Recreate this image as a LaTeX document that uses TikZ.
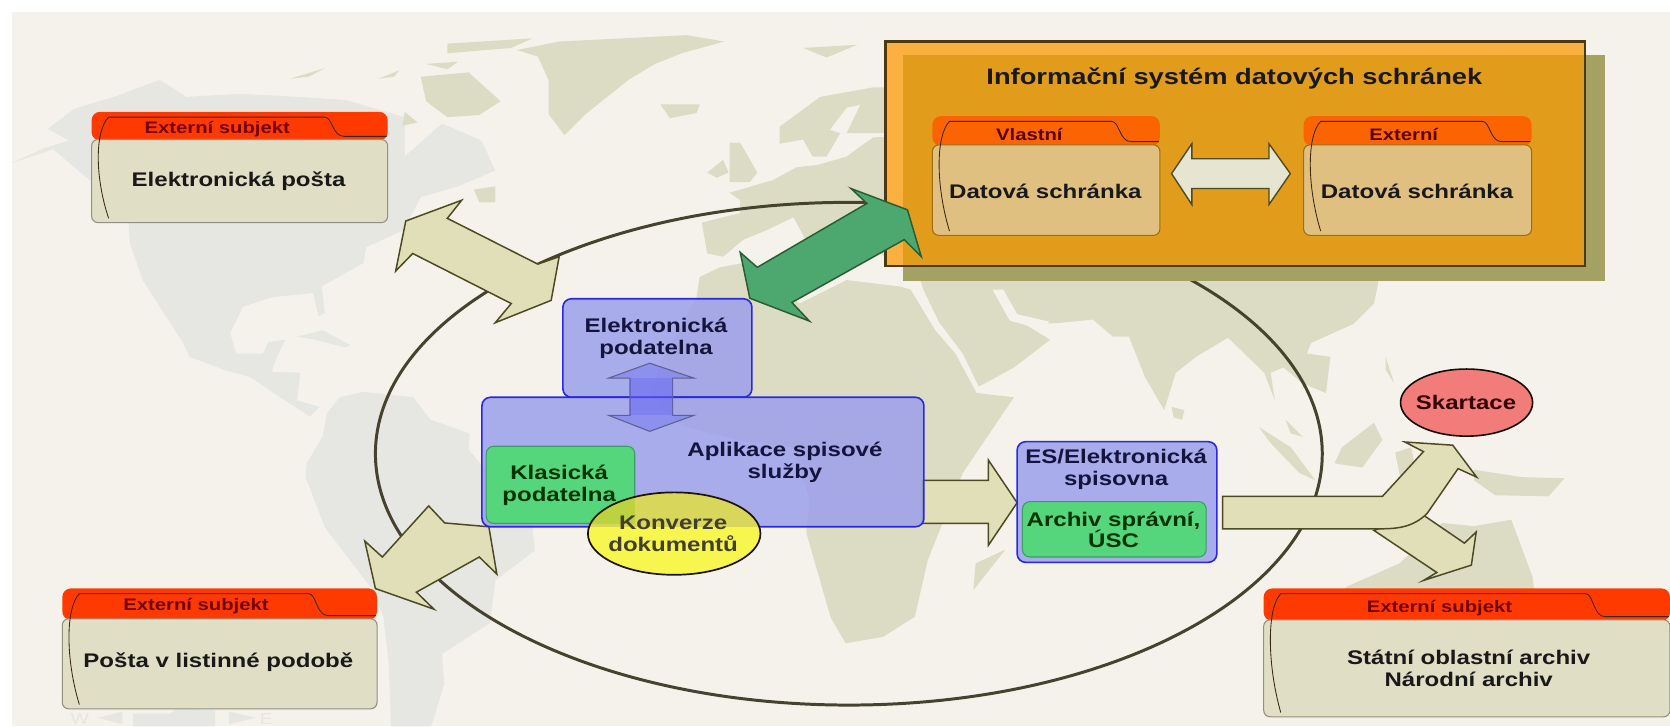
\documentclass[tikz,border=0pt]{standalone}
\usepackage{fontspec}
\setmainfont{Liberation Sans}[FakeStretch=1.22]
\usetikzlibrary{shapes.geometric}
\definecolor{bgc}{HTML}{F4F2EA}
\definecolor{land}{HTML}{DCDCC5}
\definecolor{grayland}{HTML}{E6E6E2}
\definecolor{tan}{HTML}{E0DFB8}
\definecolor{tanline}{HTML}{4C4A22}
\definecolor{redh}{HTML}{FF3A00}
\definecolor{orh}{HTML}{FB6400}
\definecolor{bodyc}{HTML}{E0DFC6}
\definecolor{bodyo}{HTML}{E0C080}
\definecolor{isband}{HTML}{FCB040}
\definecolor{isin}{HTML}{E09C1A}
\definecolor{shad}{HTML}{A3A263}
\definecolor{bluef}{HTML}{9DA0EC}
\definecolor{blueb}{HTML}{2828E0}
\definecolor{greenb}{HTML}{55D67C}
\definecolor{greenl}{HTML}{3C9C6A}
\definecolor{navy}{HTML}{14143C}
\definecolor{gra}{HTML}{4CA86E}
\definecolor{gral}{HTML}{2C5C34}
\definecolor{ringc}{HTML}{46422E}
\definecolor{yelo}{HTML}{F7F64E}
\definecolor{yelb}{HTML}{D9D65C}
\definecolor{yelg}{HTML}{BCD23E}
\definecolor{skc}{HTML}{F27C7A}
\definecolor{frame}{HTML}{4A3A14}
\tikzset{
 landp/.style={fill=land,draw=none},
 grayp/.style={fill=grayland,draw=none},
 bluebox/.style={fill=bluef,fill opacity=.85,draw=blueb,line width=1.5pt,rounded corners=8pt},
 greenbox/.style={fill=greenb,draw=greenl,line width=1pt,rounded corners=7pt},
 blockarrow/.style={fill=tan,draw=tanline,line width=1.4pt,line join=miter},
 lab/.style={font=\bfseries\fontsize{18.5}{20.5}\selectfont,align=center,inner sep=0pt,text=black!90},
 blab/.style={lab,text=navy},
 hlab/.style={font=\bfseries\fontsize{15.6}{16}\selectfont,inner sep=0pt,text=#1},
 hlab/.default={red!45!black},
}
% x1 x2 y1 ymid y2 tabx hdr body border
\newcommand\folderbox[9]{%
 \fill[#7,rounded corners=8pt] (#1,#3) rectangle (#2,{#4+1});
 \draw[fill=#8,draw=#9,line width=1pt,rounded corners=6pt] (#1,#4) rectangle (#2,#5);
 \draw[black!70!brown,line width=.8pt] ({#1+16},{#5-4}) .. controls ({#1+3},{#4+(#5-#4)*.45}) and ({#1+3},{#3+18}) .. ({#1+16},{#3+5})
   -- (#6,{#3+5}) .. controls ({#6+7},{#3+5}) and ({#6+7},{#4-3}) .. ({#6+18},{#4-3}) -- ({#2-1},{#4-3});
}
\begin{document}
\begin{tikzpicture}[x=1pt,y=-1pt]
\useasboundingbox (0,0) rectangle (1568,682);
\fill[white] (0,0) rectangle (1568,682);
\fill[bgc] (11,11) rectangle (1568,682);
% ---- map: Americas
\fill[grayp] (11,153)--(42,139)--(65,132)--(45,121)--(70,102)--(110,90)--(150,75)--(175,91)--(225,88)--(280,91)--(325,94)--(380,110)--(380,147)--(415,116)--(452,132)--(465,160)--(430,175)--(395,185)--(379,216)--(344,232)--(341,247)--(302,269)--(305,294)--(299,297)--(294,275)--(256,279)--(228,288)--(216,313)--(222,332)--(247,332)--(252,321)--(268,319)--(260,335)--(255,349)--(282,350)--(279,376)--(300,382)--(291,391)--(263,373)--(235,354)--(210,347)--(178,335)--(172,322)--(134,263)--(122,228)--(120,200)--(50,140)--cycle;
\fill[grayp] (279,316)--(303,310)--(329,324)--(324,326)--(296,319)--cycle;
\fill[grayp] (307,388)--(319,373)--(341,368)--(388,373)--(404,394)--(441,407)--(440,422)--(500,495)--(502,517)--(465,545)--(460,585)--(415,614)--(417,642)--(405,682)--(367,682)--(365,623)--(360,579)--(350,554)--(305,495)--(287,448)--(288,435)--(303,410)--cycle;
% ---- map: arctic
\fill[landp] (485,47)--(525,39)--(645,33)--(680,39)--(640,50)--(615,60)--(590,75)--(550,107)--(530,127)--(515,107)--(515,75)--(505,53)--cycle;
\fill[landp] (420,41)--(500,36)--(480,45)--(420,50)--cycle;
\fill[landp] (395,72)--(440,68)--(470,95)--(450,108)--(420,110)--(400,95)--cycle;
\fill[landp] (272,74)--(305,64)--(290,72)--cycle;
\fill[landp] (355,74)--(375,66)--(370,72)--cycle;
\fill[landp] (400,60)--(430,58)--(420,65)--cycle;
\fill[landp] (380,105)--(392,115)--(378,118)--cycle;
\fill[landp] (620,98)--(657,98)--(654,106)--(629,111)--cycle;
\fill[landp] (445,178)--(465,175)--(465,190)--(450,190)--cycle;
\fill[landp] (754,45)--(805,42)--(776,54)--cycle;
% ---- map: Europe
\fill[landp] (664,162)--(679,150)--(684,162)--(673,167)--cycle;
\fill[landp] (685,134)--(695,134)--(711,162)--(704,171)--(685,171)--cycle;
\fill[landp] (763,147)--(754,131)--(732,135)--(732,119)--(770,91)--(820,82)--(810,98)--(795,101)--(779,122)--(789,125)--(776,147)--cycle;
\fill[landp] (820,82)--(870,82)--(870,125)--(826,125)--(795,125)--(807,100)--cycle;
\fill[landp] (685,181)--(726,169)--(748,157)--(767,155)--(795,147)--(807,138)--(820,129)--(870,127)--(870,245)--(830,240)--(800,225)--(782,213)--(758,228)--(745,204)--(720,216)--(698,225)--(679,241)--(664,238)--(659,209)--(695,200)--(695,188)--cycle;
% ---- map: Africa
\fill[landp] (654,279)--(657,260)--(676,251)--(698,247)--(751,285)--(795,263)--(845,269)--(855,272)--(878,310)--(897,332)--(917,369)--(952,373)--(904,444)--(871,526)--(859,579)--(829,598)--(794,604)--(780,580)--(757,500)--(760,470)--(745,420)--(700,415)--(640,400)--(612,370)--(620,340)--cycle;
\fill[landp] (944,516)--(914,554)--(916,529)--cycle;
% ---- map: Asia
\fill[landp] (860,250)--(1294,250)--(1294,266)--(1290,285)--(1271,304)--(1231,322)--(1227,332)--(1249,335)--(1245,369)--(1223,360)--(1205,345)--(1193,350)--(1197,376)--(1187,350)--(1153,317)--(1123,335)--(1104,350)--(1093,385)--(1075,354)--(1060,316)--(1045,316)--(1026,300)--(997,303)--(963,305)--(986,319)--(952,345)--(919,363)--(904,332)--(882,303)--(867,272)--cycle;
\fill[bgc] (932,272)--(942,272)--(955,295)--(985,302)--(980,310)--(948,301)--cycle;
\fill[landp] (1100,382)--(1112,385)--(1110,394)--(1102,392)--cycle;
\fill[landp] (1182,401)--(1212,420)--(1235,451)--(1220,444)--(1193,416)--cycle;
\fill[landp] (1207,394)--(1223,410)--(1212,407)--cycle;
\fill[landp] (1260,420)--(1290,397)--(1298,413)--(1279,439)--(1253,435)--cycle;
\fill[landp] (1301,335)--(1309,360)--(1301,347)--cycle;
\fill[landp] (1310,425)--(1325,420)--(1330,445)--(1315,450)--cycle;
\fill[landp] (1384,441)--(1429,448)--(1469,449)--(1454,466)--(1404,465)--(1384,451)--cycle;
\fill[landp] (1264,551)--(1314,529)--(1354,491)--(1384,494)--(1419,488)--(1439,542)--(1446,600)--(1264,600)--cycle;
% ---- compass
\fill[grayland] (92,674)--(115,668)--(115,680)--cycle;
\fill[grayland] (125,670)--(160,670)--(165,665)--(202,667)--(202,682)--(125,682)--cycle;
\fill[grayland] (240,674)--(215,668)--(215,680)--cycle;
\node[text=grayland,font=\fontsize{15}{15}\selectfont,inner sep=0pt] (compW) at (75,675) {W};
\node[text=grayland,font=\fontsize{15}{15}\selectfont,inner sep=0pt] (compE) at (250,675) {E};
% ---- big ellipse
\node[ellipse,draw=ringc,line width=2.8pt,minimum width=889pt,minimum height=472pt,inner sep=0pt] (ring) at (797,426) {};
% ---- external boxes
\folderbox{86}{364}{105}{131}{209}{305}{redh}{bodyc}{black!35!bodyc}
\folderbox{58.5}{354}{552.5}{581}{665.5}{290}{redh}{bodyc}{black!35!bodyc}
\folderbox{1186.5}{1568}{552.5}{582}{673}{1489}{redh}{bodyc}{black!35!bodyc}
\node[hlab] (h1) at (204,121) {Externí subjekt};
\node[lab] (b1) at (224,170) {Elektronická pošta};
\node[hlab] (h2) at (184,569.5) {Externí subjekt};
\node[lab] (b2) at (205,622) {Pošta v listinné podobě};
\node[hlab] (h3) at (1351.5,571) {Externí subjekt};
\node[lab] (b3) at (1379,627.5) {Státní oblastní archiv\\Národní archiv};
% ---- information system
\fill[shad] (848,52) rectangle (1506.5,264);
\fill[isband] (831.5,39) rectangle (1488,250);
\fill[isin] (848,52) rectangle (1488,250);
\draw[frame,line width=2.2pt] (831.5,39) rectangle (1488,250);
\node[lab,font=\bfseries\fontsize{21}{22}\selectfont] (istitle) at (1159,74) {Informační systém datových schránek};
\folderbox{875.5}{1089}{109}{136}{221}{1044}{orh}{bodyo}{isin!70!black}
\folderbox{1224}{1438}{109}{136}{221}{1392}{orh}{bodyo}{isin!70!black}
\node[hlab=red!35!black] (hv) at (966.5,126) {Vlastní};
\node[hlab=red!35!black] (he) at (1318,126) {Externí};
\node[lab] (dv) at (981.5,180) {Datová schránka};
\node[lab] (de) at (1330.5,180) {Datová schránka};
\draw[fill=bodyc!80!white,draw=tanline,line width=1.3pt] (1100,163)--(1119,135)--(1119,149)--(1191.5,149)--(1191.5,135)--(1211.5,163)--(1191.5,192)--(1191.5,177)--(1119,177)--(1119,192)--cycle;
% ---- block arrows
\draw[blockarrow] (433.5,188)--(420,205)--(505,248)--(525,241)--(517.5,282)--(465,303)--(480,285)--(387.5,238)--(371.5,254.5)--(381,207.5)--cycle;
\draw[blockarrow] (402.5,475)--(417.5,491)--(459,494.6)--(466.5,539)--(450,523)--(391,556)--(407.5,572)--(352.5,552.6)--(342.5,508)--(359,523)--cycle;
\draw[fill=gra,draw=gral,line width=1.4pt] (695,237)--(711,251)--(814,191)--(799,177)--(852,197)--(865,241)--(849,225)--(743.5,284)--(760,301.5)--(704,280)--cycle;
\draw[blockarrow] (866,451)--(928,451)--(928,432)--(955,472)--(928,512)--(928,491.5)--(866,491.5)--cycle;
\draw[blockarrow] (1334,482)--(1375,510)--(1386,499.5)--(1381.5,530.6)--(1336.5,545)--(1349,537.5)--(1290,498)--cycle;
\draw[blockarrow] (1148,466)--(1298,466)--(1336.5,424)--(1319,415)--(1364,418)--(1386.5,448)--(1369,440)--(1340,482) .. controls (1326,496) and (1310,496.5) .. (1294,496.5)--(1148,496.5)--cycle;
% ---- application boxes
\draw[bluebox] (528.5,280.5) rectangle (706,373);
\draw[bluebox] (452.5,373) rectangle (867.5,494.6);
\draw[greenbox] (456.5,419) rectangle (596,491.5);
\draw[bluebox] (955,414.7) rectangle (1142.5,528);
\draw[greenbox] (960,471) rectangle (1132.5,523);
% vertical arrow
\draw[fill=blue!35!bluef,fill opacity=.4,draw=black!40!bluef,line width=1pt] (610,341)--(651.5,355)--(631.5,355)--(631.5,390)--(651.5,390)--(610,405)--(571.5,390)--(591.5,390)--(591.5,355)--(571.5,355)--cycle;
\fill[blue!40!bluef,fill opacity=.3] (591.5,355) rectangle (631.5,390);
\node[blab] (podatelna) at (616,317.5) {Elektronická\\podatelna};
\node[blab] (aplikace) at (737,434) {Aplikace spisové\\služby};
\node[lab,text=black!80!green] (klasicka) at (525,455.5) {Klasická\\podatelna};
\node[blab] (spisovna) at (1048,440.5) {ES/Elektronická\\spisovna};
\node[lab,text=black!80!green] (archiv) at (1045.5,497.5) {Archiv správní,\\ÚSC};
% ---- conversion ellipse
\fill[yelo] (633,501) ellipse [x radius=81,y radius=38.7];
\begin{scope}
 \clip (452.5,373) rectangle (867.5,494.6);
 \fill[yelb] (633,501) ellipse [x radius=81,y radius=38.7];
 \clip (456.5,419) rectangle (596,491.5);
 \fill[yelg] (633,501) ellipse [x radius=81,y radius=38.7];
\end{scope}
\draw[black!85!brown,line width=1.6pt] (633,501) ellipse [x radius=81,y radius=38.7];
\node[lab,text=black!70!olive] (konverze) at (632,501) {Konverze\\dokumentů};
% ---- shredding
\node[ellipse,fill=skc,draw=black!90!brown,line width=1.5pt,minimum width=124pt,minimum height=63pt,inner sep=0pt] (skart) at (1377,378) {};
\node[lab,text=black!80!red] (skarttxt) at (1376.5,378) {Skartace};
\end{tikzpicture}
\end{document}
